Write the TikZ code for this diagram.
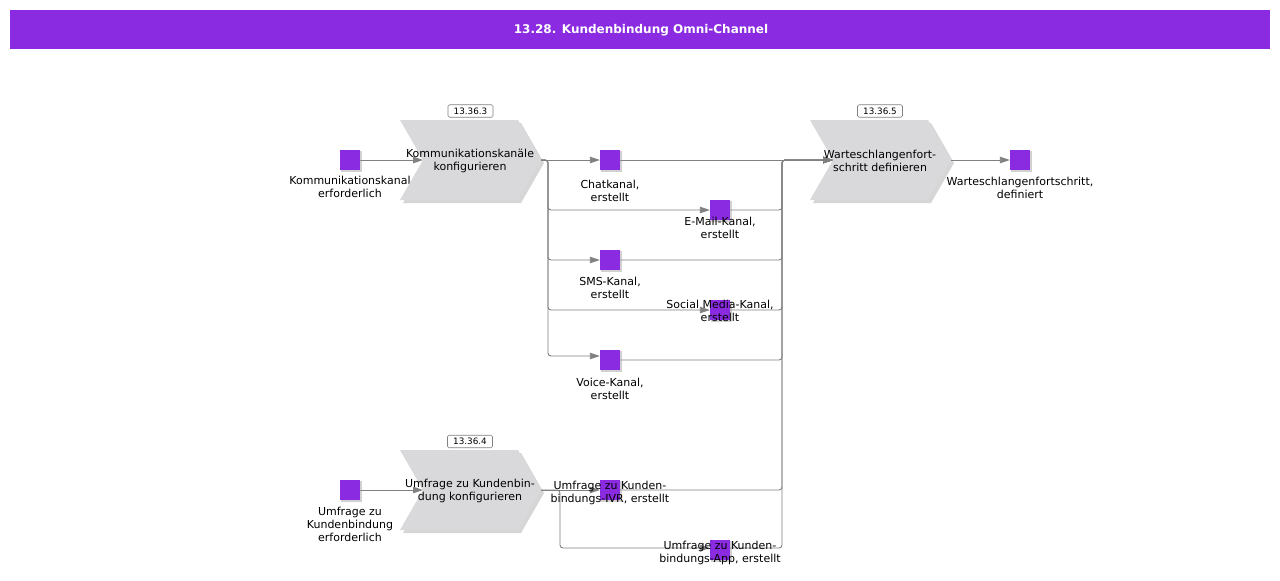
\documentclass[tikz,border=0pt]{standalone}
\usepackage{fontspec}
\setmainfont{DejaVu Sans}
\usetikzlibrary{arrows.meta}
\definecolor{evpurple}{RGB}{138,43,226}
\definecolor{chevgray}{RGB}{217,217,220}
\definecolor{linegray}{RGB}{128,128,128}
\tikzset{
  conn/.style={draw=linegray, line width=0.9pt, rounded corners=3pt, -{Triangle[length=10pt,width=6.5pt]}},
  evt/.style={fill=evpurple, minimum size=20pt, inner sep=0pt, draw=none},
  lbl/.style={font=\fontsize{11}{13}\selectfont, align=center, inner sep=0pt, anchor=north},
  reflbl/.style={draw=gray, rounded corners=1.5pt, fill=white, minimum width=45pt, minimum height=12.5pt, inner sep=0pt, font=\fontsize{8.8}{9}\selectfont, line width=0.6pt},
  chevshadow/.style={fill=black!16},
  chevfill/.style={fill=chevgray},
  evshadow/.style={fill=black!40, opacity=0.45},
}
\begin{document}
\begin{tikzpicture}[x=1pt,y=-1pt]
\useasboundingbox (0,0) rectangle (1280,581);
\fill[white] (0,0) rectangle (1280,581);
% title
\fill[evpurple] (10,10) rectangle (1270,49);
\node[font=\bfseries\fontsize{12}{14}\selectfont, text=white, inner sep=0pt] (title) at (641,30) {13.28. Kundenbindung Omni-Channel};

% label hidden partly by chevron
\node[lbl] (keL) at (350,175.5) {Kommunikationskanal\\erforderlich};

% chevrons
\foreach \x/\y in {400/120, 810/120, 400/450} {
  \fill[chevshadow] (\x+3,\y+3) -- ++(118,0) -- ++(23,40) -- ++(-23,40) -- ++(-118,0) -- ++(23,-40) -- cycle;
  \fill[chevfill] (\x,\y) -- ++(118,0) -- ++(23,40) -- ++(-23,40) -- ++(-118,0) -- ++(23,-40) -- cycle;
}
\coordinate (c1in) at (423,160);
\coordinate (c1out) at (541,160);
\coordinate (c2in) at (833,160);
\coordinate (c2out) at (951,160);
\coordinate (c3in) at (423,490);
\coordinate (c3out) at (541,490);
\coordinate (colTop) at (782,160);

% events
\node[evt] (ke) at (350,160) {};
\node[evt] (chat) at (610,160) {};
\node[evt] (mail) at (720,210) {};
\node[evt] (sms) at (610,260) {};
\node[evt] (soc) at (720,310) {};
\node[evt] (voice) at (610,360) {};
\node[evt] (wsd) at (1020,160) {};
\node[evt] (ue) at (350,490) {};
\node[evt] (ivr) at (610,490) {};
\node[evt] (app) at (720,550) {};

% connectors
\draw[conn] (ke.east) -- (c1in);
\draw[conn] (c1out) -- (chat.west);
\draw[conn] (c1out) -- (548,160) -- (548,210) -- (mail.west |- 0,210);
\draw[conn] (c1out) -- (548,160) -- (548,260) -- (sms.west);
\draw[conn] (c1out) -- (548,160) -- (548,310) -- (soc.west);
\draw[conn] (c1out) -- (548,160) -- (548,356) -- (voice.west |- 0,356);
\draw[conn] (chat.east) -- (c2in);
\draw[conn] (mail.east) -- (782,210) -- (colTop) -- (c2in);
\draw[conn] (sms.east) -- (782,260) -- (colTop) -- (c2in);
\draw[conn] (soc.east) -- (782,310) -- (colTop) -- (c2in);
\draw[conn] (voice.east) -- (782,360) -- (colTop) -- (c2in);
\draw[conn] (ivr.east) -- (782,490) -- (colTop) -- (c2in);
\draw[conn] (app.east |- 0,548) -- (782,548) -- (colTop) -- (c2in);
\draw[conn] (c2out) -- (wsd.west);
\draw[conn] (ue.east) -- (c3in);
\draw[conn] (c3out) -- (ivr.west);
\draw[conn] (c3out) -- (560,490) -- (560,548) -- (app.west |- 0,548);

% event shadows and squares on top
\foreach \n in {ke,chat,mail,sms,soc,voice,wsd,ue,ivr,app} {
  \fill[evshadow] ([shift={(1.5,1.5)}]\n.north west) rectangle ([shift={(1.5,1.5)}]\n.south east);
  \fill[evpurple] (\n.north west) rectangle (\n.south east);
}

% chevron texts
\node[lbl, anchor=center] (c1t) at (470,161) {Kommunikationskanäle\\konfigurieren};
\node[lbl, anchor=center] (c2t) at (880,161) {Warteschlangenfort-\\schritt definieren};
\node[lbl, anchor=center] (c3t) at (470,491) {Umfrage zu Kundenbin-\\dung konfigurieren};

% event labels
\node[lbl] (chatL) at (610,179.5) {Chatkanal,\\erstellt};
\node[lbl] (mailL) at (720,217) {E-Mail-Kanal,\\erstellt};
\node[lbl] (smsL) at (610,276.5) {SMS-Kanal,\\erstellt};
\node[lbl] (socL) at (720,299.5) {Social Media-Kanal,\\erstellt};
\node[lbl] (voiceL) at (610,377.5) {Voice-Kanal,\\erstellt};
\node[lbl] (wsdL) at (1020,176.5) {Warteschlangenfortschritt,\\definiert};
\node[lbl] (ueL) at (350,506.5) {Umfrage zu\\Kundenbindung\\erforderlich};
\node[lbl] (ivrL) at (610,480.5) {Umfrage zu Kunden-\\bindungs-IVR, erstellt};
\node[lbl] (appL) at (720,540.5) {Umfrage zu Kunden-\\bindungs-App, erstellt};

% reference boxes
\node[reflbl] (r1) at (470.5,111) {13.36.3};
\node[reflbl] (r2) at (880,111) {13.36.5};
\node[reflbl] (r3) at (470,441.5) {13.36.4};
\end{tikzpicture}
\end{document}
